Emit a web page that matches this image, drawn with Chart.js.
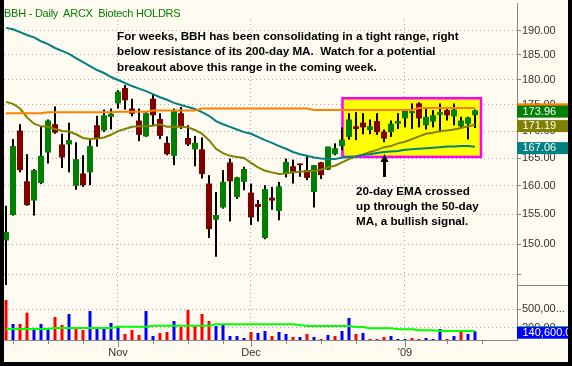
<!DOCTYPE html>
<html>
<head>
<meta charset="utf-8">
<script src="https://cdn.jsdelivr.net/npm/chart.js@4.4.1/dist/chart.umd.min.js"></script>
<style>
  html, body { margin: 0; padding: 0; background: #000; }
  #frame { position: relative; width: 572px; height: 366px; background: #000; overflow: hidden; }
  #paper { position: absolute; left: 4px; top: 0; width: 564px; height: 362px; background: #fffbf0; }
  canvas { position: absolute; left: 4px; }
  #priceChart { top: 0; }
  #volChart { top: 285px; }
  .rule { position: absolute; background: #888; }
  #title { position: absolute; left: 4px; top: 7px; font: 11px "Liberation Sans", Arial, sans-serif;
           letter-spacing: -0.25px; line-height: 12px; color: #008000; white-space: pre; }
  .note { position: absolute; font: bold 11.7px "Liberation Sans", Arial, sans-serif; color: #000; white-space: pre; }
  #note1 { left: 117px; top: 27.5px; line-height: 15.5px; }
  #note2 { left: 356px; top: 182.7px; line-height: 15px; }
  #arrow { position: absolute; left: 380px; top: 154px; }
</style>
</head>
<body>
<div id="frame">
  <div id="paper"></div>
  <div class="rule" style="left:517px; top:3px; width:1px; height:338px;"></div>
  <div class="rule" style="left:517px; top:285px; width:51px; height:1px;"></div>
  <canvas id="priceChart" width="564" height="285"></canvas>
  <canvas id="volChart" width="564" height="77"></canvas>
  <div id="title">BBH - Daily  ARCX  Biotech HOLDRS</div>
  <div class="note" id="note1">For weeks, BBH has been consolidating in a tight range, right
below resistance of its 200-day MA.  Watch for a potential
breakout above this range in the coming week.</div>
  <div class="note" id="note2">20-day EMA crossed
up through the 50-day
MA, a bullish signal.</div>
  <svg id="arrow" width="10" height="24">
    <polygon points="0.5,8 4.5,0 8.5,8" fill="#000"/>
    <rect x="3" y="7" width="3" height="16" fill="#000"/>
  </svg>
</div>
<script>
// trading days shown, Oct 10 2008 .. Jan 16 2009
const days = [
  '2008-10-10','2008-10-13','2008-10-14','2008-10-15','2008-10-16','2008-10-17',
  '2008-10-20','2008-10-21','2008-10-22','2008-10-23','2008-10-24',
  '2008-10-27','2008-10-28','2008-10-29','2008-10-30','2008-10-31',
  '2008-11-03','2008-11-04','2008-11-05','2008-11-06','2008-11-07',
  '2008-11-10','2008-11-11','2008-11-12','2008-11-13','2008-11-14',
  '2008-11-17','2008-11-18','2008-11-19','2008-11-20','2008-11-21',
  '2008-11-24','2008-11-25','2008-11-26','2008-11-28',
  '2008-12-01','2008-12-02','2008-12-03','2008-12-04','2008-12-05',
  '2008-12-08','2008-12-09','2008-12-10','2008-12-11','2008-12-12',
  '2008-12-15','2008-12-16','2008-12-17','2008-12-18','2008-12-19',
  '2008-12-22','2008-12-23','2008-12-24','2008-12-26',
  '2008-12-29','2008-12-30','2008-12-31',
  '2009-01-02','2009-01-05','2009-01-06','2009-01-07','2009-01-08','2009-01-09',
  '2009-01-12','2009-01-13','2009-01-14','2009-01-15','2009-01-16'
];

const open = [
  150.6,154.9,170.1,160.8,157.4,160.5,166.0,171.3,167.5,167.5,
  160.0,162.2,162.4,171.1,170.1,172.7,175.3,178.3,174.3,172.0,
  169.0,176.2,172.3,167.8,165.4,173.4,168.7,166.6,166.6,160.4,
  154.1,156.2,164.2,158.0,160.7,158.8,156.8,151.0,157.9,155.6,
  162.2,163.5,164.0,162.8,158.9,164.2,162.9,165.7,167.2,168.9,
  170.9,171.6,170.2,171.9,169.9,169.8,171.4,172.4,173.4,175.3,
  171.1,171.8,173.1,174.0,172.8,170.9,171.4,173.0
];
const high = [
  156.5,168.5,171.3,165.7,163.0,170.9,172.2,174.7,169.5,171.6,
  167.9,165.5,168.3,172.9,174.1,174.3,177.9,178.9,176.2,174.3,
  173.6,177.0,173.4,169.0,174.3,174.6,171.1,169.1,168.8,161.9,
  158.9,162.8,164.9,161.6,163.4,160.4,157.5,160.1,159.8,160.7,
  164.9,164.7,164.0,165.4,163.7,164.3,167.1,167.7,170.7,173.4,
  173.6,173.4,172.2,173.4,170.3,172.0,173.4,174.0,175.3,175.5,
  174.5,174.0,175.3,174.3,175.3,172.7,172.7,174.1
];
const low = [
  142.0,154.8,162.4,156.5,154.8,160.3,164.0,169.5,163.2,162.4,
  159.3,159.8,160.1,167.1,169.8,170.3,174.3,174.1,172.8,168.1,
  168.9,171.1,168.5,165.5,163.7,170.4,167.2,163.5,161.3,151.0,
  147.9,156.0,153.8,157.7,159.2,153.2,153.8,150.8,155.8,154.0,
  161.5,160.4,161.6,161.0,156.2,161.2,162.8,165.5,166.4,168.4,
  168.3,169.4,169.4,169.3,167.9,168.9,170.4,170.7,170.4,170.7,
  170.3,170.7,169.8,172.0,171.1,170.6,168.4,170.6
];
const close = [
  152.0,167.2,162.8,156.6,162.8,165.4,172.0,169.7,165.1,168.3,
  164.8,160.1,167.2,168.6,173.0,173.3,177.6,175.9,173.3,169.3,
  173.4,173.0,169.1,165.7,173.8,170.9,167.5,167.8,162.1,152.5,
  154.9,160.7,160.8,161.5,163.0,154.5,156.3,159.4,157.4,159.9,
  164.3,162.5,163.7,161.4,163.7,161.9,167.1,166.8,168.4,172.2,
  170.4,170.7,170.9,169.8,168.6,171.4,171.9,174.0,173.8,172.4,
  172.7,173.0,173.6,173.0,174.1,172.0,172.6,173.96
];

// moving averages
const ma50 = [
  190.6,190.3,189.7,189.1,188.6,187.8,187.2,186.4,185.8,185.2,
  184.3,183.5,182.7,181.9,181.3,180.5,179.9,179.3,178.7,178.2,
  177.7,177.1,176.5,176.0,175.4,175.0,174.6,174.2,173.6,172.9,
  171.9,171.3,170.8,170.3,169.8,169.5,168.9,168.3,167.8,167.2,
  166.7,166.1,165.7,165.4,165.1,164.9,164.8,164.8,165.1,165.2,
  165.3,165.6,165.7,165.9,166.1,166.2,166.3,166.5,166.6,166.7,
  166.8,166.9,167.0,167.1,167.1,167.2,167.2,167.06
];
const ema20 = [
  175.6,175.2,174.3,172.6,171.4,170.9,170.8,170.4,170.0,169.9,
  169.4,168.7,168.5,168.6,168.8,169.3,170.0,170.4,170.8,170.9,
  170.9,171.0,171.3,170.8,170.8,170.8,170.7,170.2,169.5,168.3,
  166.7,165.9,165.4,165.2,165.0,164.1,163.3,162.7,162.4,162.1,
  162.2,162.4,162.5,162.6,162.7,162.9,163.3,163.6,164.2,164.8,
  165.3,165.6,166.1,166.5,167.0,167.2,167.7,168.0,168.5,169.0,
  169.5,169.7,170.0,170.1,170.3,170.6,170.9,171.19
];
const ma200 = [
  173.4,173.4,173.4,173.4,173.4,173.4,173.6,173.6,173.6,173.6,
  173.6,173.6,173.6,173.6,173.6,173.6,173.7,173.7,173.7,173.7,
  173.7,173.9,173.9,173.9,173.9,173.9,173.9,173.9,174.3,174.3,
  174.3,174.3,174.3,174.3,174.3,174.3,174.3,174.3,174.3,174.3,
  174.3,174.3,174.3,174.3,174.0,174.0,174.0,174.0,174.0,174.0,
  174.0,174.0,174.0,174.0,174.0,174.0,174.0,174.0,174.0,174.4,
  174.4,174.4,174.4,174.4,174.4,174.4,174.4,174.4
];

const volume = [
  652000,261000,261000,445000,179000,261000,163000,375000,245000,424000,
  212000,163000,473000,212000,179000,277000,212000,98000,163000,82000,
  473000,65000,114000,130000,310000,212000,489000,228000,424000,310000,
  228000,261000,65000,65000,33000,130000,114000,147000,65000,130000,
  98000,49000,49000,98000,49000,16000,82000,65000,147000,359000,
  98000,114000,16000,16000,49000,65000,16000,16000,33000,16000,
  33000,16000,179000,16000,65000,130000,98000,140600
];
// 1 = up day (blue bar), 0 = down day (red bar)
const volUp = [
  0,1,0,0,1,1,1,0,0,1,
  0,0,1,1,1,1,1,0,0,0,
  1,1,0,0,1,0,0,0,0,0,
  1,1,1,1,1,0,1,1,0,1,
  1,0,1,0,1,0,1,0,1,1,
  0,1,0,0,0,1,1,1,0,0,
  1,1,1,0,1,0,1,1
];
const volMA = [
  179000,179000,179000,179000,179000,179000,179000,
  196000,196000,196000,196000,196000,196000,196000,196000,196000,
  217000,217000,217000,217000,217000,
  233000,233000,233000,233000,233000,233000,233000,233000,233000,
  256000,256000,256000,256000,256000,256000,256000,256000,256000,256000,256000,256000,
  245000,
  228000,228000,228000,228000,228000,228000,228000,
  212000,212000,
  191000,191000,191000,191000,
  174000,174000,174000,
  158000,158000,158000,
  147000,147000,147000,147000,147000,147000
];

const priceTicks = [145, 150, 155, 160, 165, 170, 175, 180, 185, 190];
const volTicks = [200000, 500000];
// weekly ticks (trading-day index) and month labels
const tickIdx  = [1, 6, 11, 16, 21, 26, 31, 35, 40, 45, 50, 57, 63, 68];
const tickText = ['', '', '', 'Nov', '', '', '', 'Dec', '', '', '', "'09", '', ''];

// consolidation box (index range and price range)
const box = { from: 48.07, to: 67.86, lo: 165.2, hi: 176.3 };

const FONT = '"Liberation Sans", Arial, sans-serif';
Chart.defaults.font.family = FONT;
Chart.defaults.font.size = 11;
Chart.defaults.color = '#333';

const xMin = -0.2857, xMax = 73;
const GREEN = '#008000', DARKRED = '#800000';

const consolidationBox = {
  id: 'consolidationBox',
  beforeDatasetsDraw(chart) {
    const { ctx, scales: { x, y } } = chart;
    const l = x.getPixelForValue(box.from), r = x.getPixelForValue(box.to);
    const t = y.getPixelForValue(box.hi), b = y.getPixelForValue(box.lo);
    ctx.save();
    ctx.fillStyle = '#ffff00';
    ctx.fillRect(l, t, r - l, b - t);
    ctx.lineWidth = 2.5;
    ctx.strokeStyle = '#ff00ff';
    ctx.strokeRect(l, t, r - l, b - t);
    ctx.restore();
  }
};

// coloured last-value boxes in the right axis column
const valueTags = {
  id: 'valueTags',
  afterDraw(chart, args, opts) {
    const { ctx, chartArea, scales: { y } } = chart;
    ctx.save();
    ctx.font = '11px ' + FONT;
    ctx.textBaseline = 'middle';
    (opts.tags || []).forEach(t => {
      const py = y.getPixelForValue(t.value) + 1.3;
      ctx.fillStyle = t.bg;
      ctx.fillRect(chartArea.right, py - 6, chart.width - chartArea.right, 12);
      if (t.text) {
        ctx.fillStyle = '#fff';
        ctx.fillText(t.text, chartArea.right + 5.5, py);
      }
    });
    ctx.restore();
  }
};

const xTickMarks = {
  id: 'xTickMarks',
  afterDraw(chart) {
    const { ctx, chartArea, scales: { x } } = chart;
    ctx.save();
    ctx.strokeStyle = '#888';
    ctx.lineWidth = 1;
    x.ticks.forEach((t, k) => {
      const px = Math.round(x.getPixelForValue(t.value)) + 0.5;
      const len = tickText[k] ? 7 : 4;
      ctx.beginPath();
      ctx.moveTo(px, chartArea.bottom);
      ctx.lineTo(px, chartArea.bottom + len);
      ctx.stroke();
    });
    ctx.restore();
  }
};

// keep the plot area flush with the canvas edges
const noPad = s => { s.paddingTop = 0; s.paddingBottom = 0; s.paddingLeft = 0; s.paddingRight = 0; };
const last = a => a[a.length - 1];

new Chart(document.getElementById('priceChart'), {
  type: 'bar',
  data: {
    datasets: [
      {
        type: 'line', label: '200-day MA', order: 0,
        data: ma200.map((v, i) => ({ x: i, y: v })),
        borderColor: '#ff8000', borderWidth: 2, pointRadius: 0
      },
      {
        type: 'line', label: '50-day MA', order: 0,
        data: ma50.map((v, i) => ({ x: i, y: v })),
        borderColor: '#008080', borderWidth: 2, pointRadius: 0
      },
      {
        type: 'line', label: '20-day EMA', order: 0,
        data: ema20.map((v, i) => ({ x: i, y: v })),
        borderColor: '#808000', borderWidth: 2, pointRadius: 0
      },
      {
        label: 'body', order: 1,
        data: days.map((d, i) => ({ x: i, y: [open[i], close[i]] })),
        backgroundColor: days.map((d, i) => close[i] >= open[i] ? GREEN : DARKRED),
        barThickness: 6, grouped: false, inflateAmount: 0, borderWidth: 0
      },
      {
        label: 'wick', order: 2,
        data: days.map((d, i) => ({ x: i, y: [low[i], high[i]] })),
        backgroundColor: '#000',
        barThickness: 2, grouped: false, inflateAmount: 0, borderWidth: 0
      }
    ]
  },
  options: {
    responsive: false,
    animation: false,
    layout: { padding: { top: 20, left: 0, right: 0, bottom: 0 } },
    plugins: {
      legend: { display: false },
      tooltip: { enabled: false },
      valueTags: {
        tags: [
          { value: last(ma200), bg: '#ff8000', text: '' },
          { value: last(close), bg: GREEN, text: last(close).toFixed(2) },
          { value: last(ema20), bg: '#808000', text: last(ema20).toFixed(2) },
          { value: last(ma50), bg: '#008080', text: last(ma50).toFixed(2) }
        ]
      }
    },
    scales: {
      x: {
        type: 'linear', min: xMin, max: xMax, bounds: 'data', offset: false,
        afterBuildTicks: s => { s.ticks = tickIdx.filter((v, k) => tickText[k]).map(v => ({ value: v })); },
        afterFit: s => { s.height = 0; noPad(s); },
        ticks: { display: false },
        grid: { color: '#aaa', drawTicks: false, offset: false },
        border: { display: false, dash: [1, 3] }
      },
      y: {
        type: 'logarithmic', position: 'right', min: 143.34, max: 192.27, bounds: 'data',
        afterBuildTicks: s => { s.ticks = priceTicks.map(v => ({ value: v })); },
        afterFit: s => { s.width = 51; noPad(s); },
        ticks: { callback: v => v === 145 ? '' : v.toFixed(2), padding: 1, color: '#333' },
        grid: { color: '#aaa', tickLength: 4, tickColor: '#888' },
        border: { display: false, dash: [1, 3] }
      }
    }
  },
  plugins: [consolidationBox, valueTags]
});

new Chart(document.getElementById('volChart'), {
  type: 'bar',
  data: {
    datasets: [
      {
        type: 'line', label: 'volume MA', order: 0,
        data: volMA.map((v, i) => ({ x: i, y: v })),
        borderColor: '#00ff00', borderWidth: 2, pointRadius: 0
      },
      {
        label: 'volume', order: 1,
        data: volume.map((v, i) => ({ x: i, y: v })),
        backgroundColor: volUp.map(u => u ? '#0000ff' : '#ff0000'),
        barThickness: 3, grouped: false, inflateAmount: 0, borderWidth: 0
      }
    ]
  },
  options: {
    responsive: false,
    animation: false,
    layout: { padding: 0 },
    plugins: {
      legend: { display: false },
      tooltip: { enabled: false },
      valueTags: {
        tags: [
          { value: last(volMA), bg: '#00ff00', text: '' },
          { value: last(volume), bg: '#0000ff',
            text: last(volume).toLocaleString('en-US', { minimumFractionDigits: 1 }) }
        ]
      }
    },
    scales: {
      x: {
        type: 'linear', min: xMin, max: xMax, bounds: 'data', offset: false,
        afterBuildTicks: s => { s.ticks = tickIdx.map(v => ({ value: v })); },
        afterFit: s => { s.height = 22; noPad(s); },
        ticks: { callback: (v, k) => tickText[k], autoSkip: false, maxRotation: 0, padding: 6, color: '#333' },
        grid: { color: c => tickText[c.index] ? '#aaa' : 'rgba(0,0,0,0)', drawTicks: false, offset: false },
        border: { display: true, color: '#888', dash: [1, 3] }
      },
      y: {
        type: 'linear', position: 'right', min: 0, max: 896000, bounds: 'data',
        afterBuildTicks: s => { s.ticks = volTicks.map(v => ({ value: v })); },
        afterFit: s => { s.width = 51; noPad(s); },
        ticks: { callback: v => v.toLocaleString('en-US').slice(0, 6) + '...', padding: 1, color: '#333' },
        grid: { color: '#aaa', tickLength: 4, tickColor: '#888' },
        border: { display: false, dash: [1, 3] }
      }
    }
  },
  plugins: [valueTags, xTickMarks]
});
</script>
</body>
</html>
